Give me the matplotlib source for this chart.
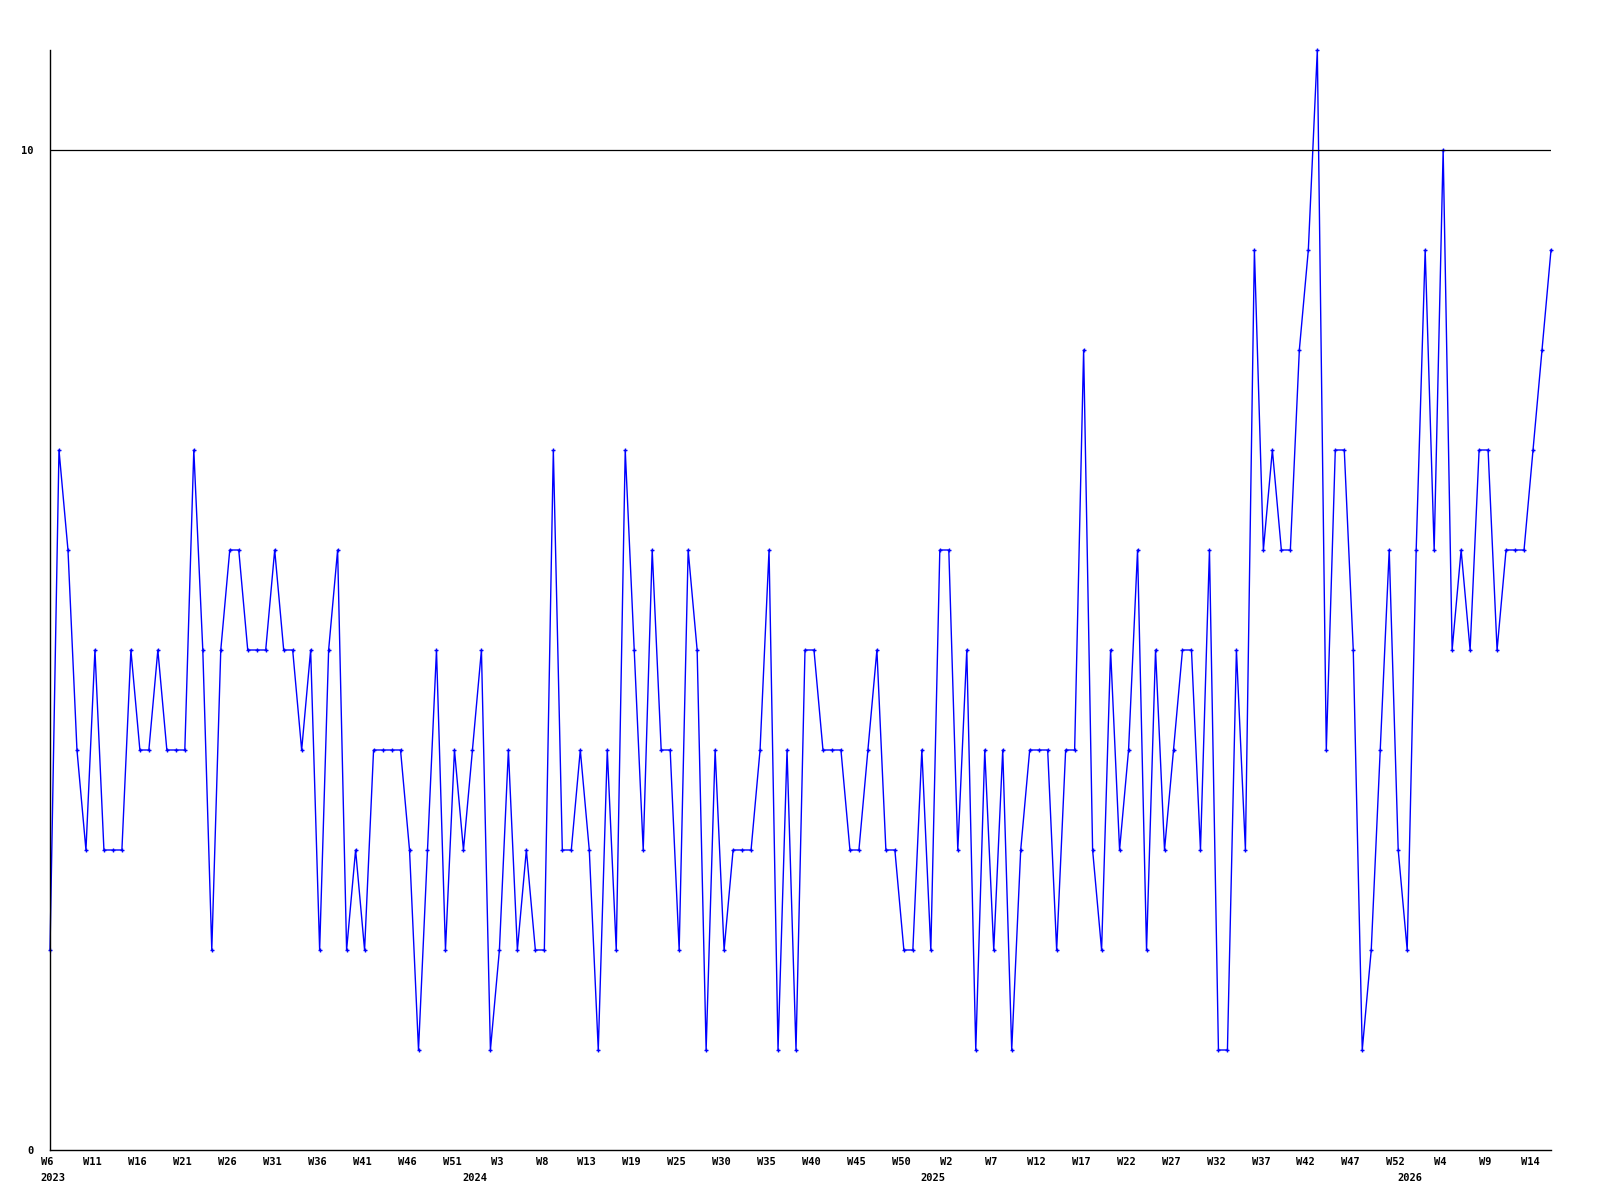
import matplotlib
matplotlib.use("Agg")
import matplotlib.pyplot as plt
import matplotlib.transforms as mtransforms
import numpy as np

# weekly counts, one per point, left to right
values = [2, 7, 6, 4, 3, 5, 3, 3, 3, 5, 4, 4, 5, 4, 4, 4, 7, 5, 2, 5,
          6, 6, 5, 5, 5, 6, 5, 5, 4, 5, 2, 5, 6, 2, 3, 2, 4, 4, 4, 4,
          3, 1, 3, 5, 2, 4, 3, 4, 5, 1, 2, 4, 2, 3, 2, 2, 7, 3, 3, 4,
          3, 1, 4, 2, 7, 5, 3, 6, 4, 4, 2, 6, 5, 1, 4, 2, 3, 3, 3, 4,
          6, 1, 4, 1, 5, 5, 4, 4, 4, 3, 3, 4, 5, 3, 3, 2, 2, 4, 2, 6,
          6, 3, 5, 1, 4, 2, 4, 1, 3, 4, 4, 4, 2, 4, 4, 8, 3, 2, 5, 3,
          4, 6, 2, 5, 3, 4, 5, 5, 3, 6, 1, 1, 5, 3, 9, 6, 7, 6, 6, 8,
          9, 11, 4, 7, 7, 5, 1, 2, 4, 6, 3, 2, 6, 9, 6, 10, 5, 6, 5, 7,
          7, 5, 6, 6, 6, 7, 8, 9]

# one label every 5 points
week_labels = ["W6", "W11", "W16", "W21", "W26", "W31", "W36", "W41", "W46", "W51",
               "W3", "W8", "W13", "W19", "W25", "W30", "W35", "W40", "W45", "W50",
               "W2", "W7", "W12", "W17", "W22", "W27", "W32", "W37", "W42", "W47",
               "W52", "W4", "W9", "W14"]

year_labels = ["2023", "2024", "2025", "2026"]
year_pos = [0, 47, 98, 151]

font = {"family": "DejaVu Sans Mono", "weight": "bold", "size": 7.5}

fig = plt.figure(figsize=(16, 12), dpi=100)
ax = fig.add_axes([50 / 1600, 50 / 1200, 1501 / 1600, 1100 / 1200])

x = np.arange(len(values))
ax.plot(x, values, color="#0000ff", lw=1, marker="+", ms=3.5, mew=1, clip_on=False)

ax.set_xlim(0, len(values) - 1)
ax.set_ylim(0, 11)
ax.axhline(10, color="black", lw=0.9)

for s in ["top", "right"]:
    ax.spines[s].set_visible(False)
for s in ["left", "bottom"]:
    ax.spines[s].set_color("black")
    ax.spines[s].set_linewidth(1)

ax.set_yticks([0, 10])
ax.set_yticklabels(["0", "10"], fontdict=font)
ax.tick_params(axis="y", length=0, pad=12)

ax.set_xticks(x[::5])
ax.set_xticklabels(week_labels, fontdict=font)
ax.tick_params(axis="x", length=0, pad=5)
shift = mtransforms.ScaledTranslation(-2.5 / 100, 0, fig.dpi_scale_trans)
for lab in ax.get_xticklabels():
    lab.set_transform(lab.get_transform() + shift)

# year under first week of each year
ytrans = ax.get_xaxis_transform() + mtransforms.ScaledTranslation(-10 / 100, 0, fig.dpi_scale_trans)
for pos, yr in zip(year_pos, year_labels):
    ax.text(pos, -28 / 1100, yr, transform=ytrans, ha="left", va="center", **font)

fig.savefig("out.png", dpi=100, facecolor="white")
